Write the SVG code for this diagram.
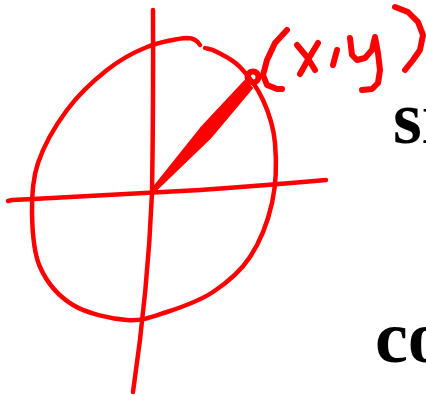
<svg xmlns="http://www.w3.org/2000/svg" width="426" height="395" viewBox="0 0 426 395">
  <style>
    .ink { fill: none; stroke: #ff0000; stroke-width: 4.5; stroke-linecap: round; stroke-linejoin: round; }
    .pen { fill: none; stroke: #ff0000; stroke-width: 6; stroke-linecap: round; stroke-linejoin: round; }
    .txt { font-family: "Liberation Serif", "Times New Roman", serif; font-size: 74px; font-weight: bold; fill: #000000; }
  </style>
  <rect width="426" height="395" fill="#ffffff"/>
  <g id="axes">
    <path class="ink" d="M153,10 Q153.5,100 152,193 Q148,290 133,392"/>
    <path class="ink" d="M8,201 L12,200 L33,199 Q120,194 200,190 Q270,185 326,180"/>
  </g>
  <g id="circle">
    <path class="ink" d="M200,45 Q196,38 187,38 C178.2,38.5 160.3,41.7 147,47 C133.7,52.3 120.3,59.5 107,70 C93.7,80.5 78.5,94.5 67,110 C55.5,125.5 43.8,145.8 38,163 C32.2,180.2 31.7,195.7 32,213 C32.3,230.3 33.2,251.7 40,267 C46.8,282.3 58.5,296.2 73,305 C87.5,313.8 111.3,318.8 127,320 C142.7,321.2 152.7,316.7 167,312 C181.3,307.3 199.2,301.2 213,292 C226.8,282.8 240.2,271.8 250,257 C259.8,242.2 267.8,222 272,203 C276.2,184 276.5,160.2 275,143 C273.5,125.8 268.8,112.7 263,100 C257.2,87.3 247.7,75 240,67 C232.3,59 222.8,55.2 217,52 C211.2,48.8 207,48.7 205,48"/>
  </g>
  <g id="radius">
    <path fill="#ff0000" stroke="#ff0000" stroke-width="2" stroke-linejoin="round" d="M153,188 L201,128 L245,81 L252,88 L210,138 L155,191 Z"/>
  </g>
  <g id="point">
    <circle cx="253" cy="77" r="5.5" fill="none" stroke="#ff0000" stroke-width="6"/>
    <path class="pen" d="M287,30 L275,43 L267,60 L263,75 L267,85 L277,89 L282,89"/>
    <path class="pen" d="M297,45 L307,57 L315,70"/>
    <path class="pen" d="M318,43 L309,58 L300,74"/>
    <path class="pen" d="M337,50 L333,65"/>
    <path class="pen" d="M350,38 L352,55 L357,60 L365,58 L372,50 L375,37 L378,53 L380,70 L378,83 L372,89 L362,90"/>
    <path class="pen" d="M395,7 L408,12 L418,22 L423,35 L420,50 L413,60 L405,70"/>
  </g>
  <g id="labels">
    <text class="txt" x="393" y="143">si</text>
    <text class="txt" x="375" y="362">co</text>
  </g>
</svg>
